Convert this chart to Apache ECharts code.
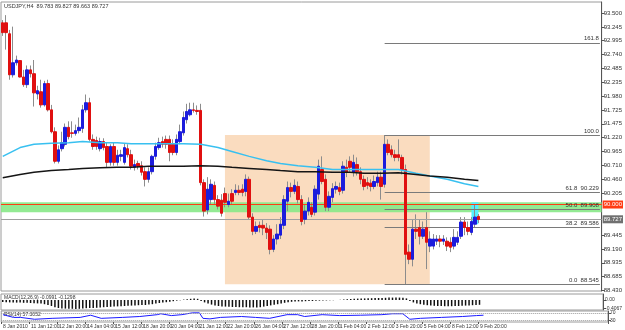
<!DOCTYPE html>
<html>
<head>
<meta charset="utf-8">
<script src="https://cdn.jsdelivr.net/npm/echarts@6.0.0/dist/echarts.min.js"></script>
<style>
  html, body { margin: 0; padding: 0; background: #fff; }
  #chart { width: 625px; height: 330px; }
</style>
</head>
<body>
<div id="chart"></div>
<script>
// USDJPY H4, 8 Jan 2010 04:00 .. 10 Feb 2010 00:00
const opens = [
  93.32, 93.32, 93.12, 92.37, 92.59, 92.63, 92.33, 92.19, 92.46, 92.39,
  92.02, 92.06, 91.82, 92.21, 91.73, 91.33, 90.79, 91.02, 91.10, 91.41,
  91.31, 91.30, 91.35, 91.39, 91.73, 91.86, 91.19, 91.17, 91.02, 91.15,
  91.06, 90.77, 91.06, 90.77, 90.88, 90.77, 91.02, 90.91, 90.68, 90.75,
  90.71, 90.60, 90.46, 90.60, 90.88, 91.04, 91.15, 91.19, 91.19, 91.10,
  90.95, 91.15, 91.31, 91.55, 91.64, 91.73, 91.72, 91.72, 90.40, 89.90,
  90.09, 90.35, 90.09, 90.08, 90.20, 90.00, 90.20, 90.22, 90.26, 90.28,
  90.24, 90.46, 89.77, 89.51, 89.62, 89.62, 89.57, 89.55, 89.18, 89.37,
  89.44, 89.62, 90.06, 90.31, 90.24, 90.33, 90.09, 89.73, 89.88, 89.95,
  89.86, 90.19, 90.64, 90.46, 89.95, 90.13, 90.28, 90.31, 90.26, 90.68,
  90.79, 90.59, 90.73, 90.60, 90.46, 90.40, 90.39, 90.33, 90.40, 90.50,
  90.37, 91.10, 91.00, 90.91, 90.91, 90.86, 90.64, 89.13, 89.00, 89.55,
  89.58, 89.42, 89.58, 89.24, 89.24, 89.33, 89.37, 89.33, 89.33, 89.31,
  89.24, 89.31, 89.42, 89.68, 89.58, 89.49, 89.64, 89.783
];
const closes = [
  93.14, 93.14, 92.37, 92.59, 92.64, 92.33, 92.19, 92.46, 92.39, 92.04,
  92.08, 91.82, 92.21, 91.73, 91.33, 90.79, 91.00, 91.13, 91.41, 91.24,
  91.30, 91.35, 91.41, 91.73, 91.86, 91.19, 91.06, 91.06, 91.15, 91.04,
  90.77, 91.06, 90.77, 90.90, 90.91, 91.04, 90.91, 90.70, 90.73, 90.70,
  90.59, 90.46, 90.60, 90.88, 91.06, 91.13, 91.10, 91.10, 90.95, 90.95,
  91.19, 91.33, 91.59, 91.70, 91.73, 91.72, 91.70, 90.40, 89.88, 90.28,
  90.37, 90.09, 89.97, 89.84, 90.04, 90.06, 90.06, 90.26, 90.22, 90.22,
  90.46, 89.77, 89.51, 89.60, 89.58, 89.57, 89.49, 89.18, 89.37, 89.46,
  89.64, 90.09, 90.31, 90.24, 90.35, 90.09, 89.69, 89.88, 90.04, 89.82,
  90.28, 90.70, 90.42, 89.95, 90.15, 90.29, 90.33, 90.24, 90.70, 90.59,
  90.68, 90.77, 90.60, 90.46, 90.33, 90.35, 90.33, 90.42, 90.50, 90.33,
  91.10, 90.95, 90.91, 90.86, 90.86, 90.64, 89.09, 89.00, 89.55, 89.51,
  89.42, 89.55, 89.31, 89.37, 89.37, 89.37, 89.33, 89.37, 89.24, 89.22,
  89.40, 89.40, 89.68, 89.58, 89.51, 89.69, 89.77, 89.727
];
const lows = [
  93.08, 92.83, 92.28, 92.32, 92.54, 92.32, 92.15, 92.13, 92.32, 91.79,
  91.92, 91.77, 91.79, 91.70, 91.30, 90.75, 90.75, 90.97, 91.06, 91.19,
  91.22, 91.26, 91.30, 91.31, 91.68, 91.15, 91.00, 91.00, 90.97, 90.99,
  90.68, 90.71, 90.71, 90.71, 90.79, 90.73, 90.86, 90.64, 90.62, 90.64,
  90.53, 90.33, 90.40, 90.55, 90.82, 91.00, 91.04, 91.02, 90.79, 90.90,
  90.90, 91.10, 91.26, 91.48, 91.61, 91.68, 91.64, 90.35, 89.78, 89.82,
  90.00, 89.99, 89.91, 89.78, 89.95, 89.95, 90.00, 90.17, 90.17, 90.15,
  90.15, 89.73, 89.44, 89.46, 89.49, 89.44, 89.37, 89.09, 89.13, 89.27,
  89.37, 89.55, 89.88, 90.13, 90.19, 90.02, 89.62, 89.64, 89.80, 89.77,
  89.80, 90.09, 90.37, 89.88, 89.88, 90.04, 90.20, 90.17, 90.20, 90.50,
  90.60, 90.51, 90.53, 90.37, 90.26, 90.28, 90.24, 90.28, 90.33, 90.09,
  90.31, 90.90, 90.86, 90.79, 90.79, 90.55, 88.545, 88.91, 88.87, 89.37,
  89.27, 89.37, 88.82, 89.13, 89.18, 89.26, 89.22, 89.26, 89.15, 89.13,
  89.18, 89.26, 89.37, 89.44, 89.44, 89.44, 89.58, 89.663
];
const highs = [
  93.37, 93.46, 93.19, 93.25, 92.72, 92.64, 92.46, 92.54, 92.54, 92.64,
  92.17, 92.28, 92.26, 92.28, 91.82, 91.41, 91.08, 91.33, 91.48, 91.52,
  91.52, 91.46, 91.59, 91.82, 92.01, 91.95, 91.28, 91.24, 91.22, 91.21,
  91.13, 91.10, 91.13, 91.00, 91.00, 91.11, 91.10, 91.00, 90.82, 90.80,
  90.79, 90.68, 90.68, 90.91, 91.13, 91.22, 91.24, 91.26, 91.26, 91.19,
  91.28, 91.46, 91.70, 91.84, 91.86, 91.86, 91.81, 91.84, 90.46, 90.50,
  90.46, 90.42, 90.17, 90.19, 90.31, 90.20, 90.28, 90.37, 90.35, 90.37,
  90.55, 90.51, 89.84, 89.69, 89.69, 89.73, 89.66, 89.62, 89.44, 89.64,
  89.77, 90.17, 90.42, 90.40, 90.46, 90.42, 90.17, 90.00, 90.13, 90.04,
  90.35, 90.82, 90.88, 90.55, 90.24, 90.39, 90.42, 90.40, 90.79, 90.82,
  90.88, 90.91, 90.86, 90.68, 90.53, 90.50, 90.46, 90.53, 90.60, 90.60,
  91.27, 91.19, 91.08, 91.00, 91.19, 90.91, 90.73, 89.27, 89.73, 89.82,
  89.73, 89.69, 89.86, 89.51, 89.46, 89.44, 89.44, 89.44, 89.40, 89.40,
  89.55, 89.51, 89.77, 89.77, 89.69, 89.77, 90.00, 89.827
];

// moving averages, read at some bars
const maIdx = [0, 5, 9, 14, 19, 23, 28, 33, 37, 42, 47, 52, 57, 62, 66, 71, 76, 80, 85, 90, 95, 100, 104, 109, 114, 119, 123, 128, 133, 137];
const maFast = [90.88, 91.04, 91.10, 91.12, 91.13, 91.15, 91.13, 91.13, 91.11, 91.11, 91.11, 91.11, 91.10, 91.04, 90.97, 90.88, 90.80, 90.75, 90.71, 90.68, 90.64, 90.64, 90.64, 90.64, 90.64, 90.57, 90.52, 90.46, 90.38, 90.33];
const maSlow = [90.49, 90.55, 90.59, 90.62, 90.64, 90.66, 90.67, 90.68, 90.68, 90.70, 90.70, 90.70, 90.71, 90.70, 90.68, 90.66, 90.64, 90.62, 90.60, 90.60, 90.59, 90.59, 90.57, 90.57, 90.58, 90.55, 90.52, 90.50, 90.46, 90.44];

const macd = [
  -0.10, -0.11, -0.12, -0.12, -0.13, -0.13, -0.14, -0.14, -0.15, -0.16, -0.17, -0.18,
  -0.21, -0.25, -0.30, -0.36,
  -0.40, -0.42, -0.43, -0.44, -0.44, -0.45, -0.44, -0.43, -0.41, -0.40, -0.40, -0.39,
  -0.37, -0.36, -0.35, -0.34, -0.33, -0.32, -0.31, -0.30, -0.29, -0.28, -0.27, -0.26, -0.25, -0.25,
  -0.23, -0.21, -0.18, -0.15, -0.13, -0.11, -0.09,
  -0.06, -0.03, -0.01, 0.02, 0.04, 0.06, 0.07, 0.06,
  -0.05, -0.12, -0.18, -0.23, -0.27,
  -0.30, -0.32, -0.33, -0.34, -0.35, -0.35, -0.36, -0.36, -0.36, -0.37, -0.37, -0.37, -0.36,
  -0.33, -0.30, -0.27, -0.24, -0.21, -0.18, -0.14, -0.11,
  -0.09, -0.08, -0.07, -0.07, -0.06, -0.05, -0.05, -0.04, -0.03, -0.02, -0.02, -0.01, -0.01, 0.00, 0.01, 0.02,
  0.04, 0.05, 0.06, 0.07, 0.08, 0.08, 0.09, 0.09, 0.10, 0.10, 0.10, 0.11, 0.12, 0.12, 0.12, 0.12, 0.11, 0.08,
  -0.05, -0.12, -0.17, -0.21, -0.24, -0.26, -0.28, -0.29, -0.30, -0.30, -0.31, -0.31, -0.31, -0.30, -0.30, -0.29, -0.28, -0.27, -0.26, -0.25, -0.24
];

const rsiIdx = [0, 3, 5, 9, 14, 22, 25, 28, 34, 39, 44, 45, 48, 51, 54, 56, 57, 59, 62, 68, 72, 76, 81, 84, 86, 91, 96, 102, 108, 111, 114, 116, 119, 125, 131, 135, 137];
const rsiVal = [60, 45, 45, 35, 40, 45, 57, 40, 45, 50, 60, 65, 55, 60, 70, 70, 40, 37, 45, 50, 45, 40, 60, 60, 50, 60, 55, 57, 60, 65, 65, 35, 40, 45, 50, 55, 57];

const xLabels = ["8 Jan 2010", "11 Jan 12:00", "12 Jan 20:00", "14 Jan 04:00", "15 Jan 12:00", "18 Jan 20:00",
  "20 Jan 04:00", "21 Jan 12:00", "22 Jan 20:00", "26 Jan 04:00", "27 Jan 12:00", "28 Jan 20:00",
  "1 Feb 04:00", "2 Feb 12:00", "3 Feb 20:00", "5 Feb 04:00", "8 Feb 12:00", "9 Feb 20:00"];
const priceTicks = [88.430, 88.685, 88.935, 89.190, 89.445, 90.205, 90.460, 90.710, 90.965, 91.220,
  91.475, 91.725, 91.980, 92.235, 92.485, 92.740, 92.995, 93.245, 93.500];
const macdTicks = [0.2231, 0, -0.4067];
const rsiTicks = [70, 30];

const fibHigh = 91.27, fibLow = 88.545, fibStart = 110;
const fibLevels = [0, 38.2, 50, 61.8, 100, 161.8];
const fibLabels = ["0.0  88.545", "38.2  89.586", "50.0  89.908", "61.8  90.229", "100.0", "161.8"];
const boxStart = 64, boxEnd = 123;
const zoneTop = 90.04, zoneBottom = 89.86, levelLine = 90.00, lastPrice = 89.727;

const barCount = 173; // bars plus empty space on the right
const cats = [];
for (let i = 0; i < barCount; i++) cats.push(String(i));

const wicks = opens.map((o, i) => [o, closes[i], lows[i], highs[i]]);
const bodies = opens.map((o, i) => [o, closes[i], Math.min(o, closes[i]), Math.max(o, closes[i])]);
const fibPrice = (lv) => fibLow + (fibHigh - fibLow) * lv / 100;

const font = "Liberation Sans Narrow, Liberation Sans";
const txt = "#333";
const axisCol = "#555";
const labelEvery = (idx) => idx % 8 === 0 && idx / 8 < xLabels.length;

const chart = echarts.init(document.getElementById("chart"));
const grids = [
  { left: 1, right: 17, top: 2, height: 289 },
  { left: 1, right: 17, top: 294, height: 16 },
  { left: 1, right: 17, top: 311, height: 11 },
].map((g) => Object.assign(g, { show: true, borderColor: "#9a9a9a", borderWidth: 1 }));

const xAxes = [0, 1, 2].map((k) => ({
  type: "category",
  gridIndex: k,
  data: cats,
  boundaryGap: true,
  axisLine: { show: false },
  axisTick: k === 2 ? { show: true, interval: labelEvery, length: 2, lineStyle: { color: axisCol } } : { show: false },
  axisLabel: k === 2 ? {
    show: true, interval: labelEvery, showMinLabel: true, align: "left", margin: 2,
    fontSize: 5, fontFamily: font, color: txt,
    formatter: (v, idx) => xLabels[idx / 8] || "",
  } : { show: false },
  splitLine: { show: false },
}));

const yBase = {
  type: "value", position: "right",
  splitLine: { show: false },
  axisLine: { show: true, lineStyle: { color: axisCol } },
};
const yLabel = { fontSize: 6, fontFamily: font, color: txt, margin: 2, hideOverlap: false };
const yAxes = [
  Object.assign({}, yBase, {
    gridIndex: 0, min: 88.42, max: 93.70,
    axisTick: { show: true, length: 3, customValues: priceTicks, lineStyle: { color: axisCol } },
    axisLabel: Object.assign({ customValues: priceTicks, formatter: (v) => v.toFixed(3) }, yLabel),
  }),
  Object.assign({}, yBase, {
    gridIndex: 1, min: -0.5, max: 0.3,
    axisTick: { show: true, length: 3, customValues: macdTicks, lineStyle: { color: axisCol } },
    axisLabel: Object.assign({ customValues: macdTicks, formatter: (v) => (v === 0 ? "0.00" : String(v)) }, yLabel, { fontSize: 5 }),
  }),
  Object.assign({}, yBase, {
    gridIndex: 2, min: 20, max: 80,
    axisTick: { show: true, length: 3, customValues: rsiTicks, lineStyle: { color: axisCol } },
    axisLabel: Object.assign({ customValues: rsiTicks }, yLabel, { fontSize: 5 }),
  }),
];

const smallLabel = { fontSize: 6, fontFamily: font, color: txt };

const option = {
  animation: false,
  backgroundColor: "#fff",
  grid: grids,
  xAxis: xAxes,
  yAxis: yAxes,
  graphic: [
    { type: "text", left: 4, top: 3, style: { text: "USDJPY,H4  89.783 89.827 89.663 89.727", font: "5.5px " + font, fill: txt } },
    { type: "text", left: 4, top: 295, style: { text: "MACD(12,26,9) -0.0991 -0.1298", font: "5px " + font, fill: txt } },
    { type: "text", left: 4, top: 312, style: { text: "RSI(14) 57.3052", font: "5px " + font, fill: txt } },
  ],
  series: [
    {
      // time box
      type: "line", xAxisIndex: 0, yAxisIndex: 0, data: [], z: 1, silent: true,
      markArea: {
        silent: true,
        itemStyle: { color: "#fadcbf" },
        data: [[{ xAxis: boxStart, yAxis: fibHigh }, { xAxis: boxEnd, yAxis: fibLow }]],
      },
    },
    {
      // support zone, marked bars, price lines
      type: "line", xAxisIndex: 0, yAxisIndex: 0, data: [], z: 2, silent: true,
      markArea: {
        silent: true,
        data: [
          [{ yAxis: zoneTop, itemStyle: { color: "rgba(135,232,135,0.9)" } }, { yAxis: zoneBottom }],
          [{ xAxis: 135, yAxis: 90.04, itemStyle: { color: "#55eeff" } }, { xAxis: 137, yAxis: 89.64 }],
        ],
      },
      markLine: {
        silent: true, symbol: ["none", "none"],
        data: [
          {
            yAxis: levelLine, lineStyle: { color: "#ff3c14", width: 1, type: "solid" },
            label: { position: "end", distance: 1, formatter: "90.000", fontSize: 6, fontFamily: font, color: "#fff", backgroundColor: "#ff3c14", padding: [1, 1] },
          },
          {
            yAxis: lastPrice, lineStyle: { color: "#a0a0a0", width: 1, type: "solid" },
            label: { position: "end", distance: 1, formatter: "89.727", fontSize: 6, fontFamily: font, color: "#fff", backgroundColor: "#707070", padding: [1, 1] },
          },
        ],
      },
    },
    {
      // fibonacci levels
      type: "line", xAxisIndex: 0, yAxisIndex: 0, data: [], z: 3, silent: true,
      markLine: {
        silent: true, symbol: ["none", "none"],
        lineStyle: { color: "#7a7a7a", width: 1, type: "solid" },
        data: fibLevels.map((lv, k) => [
          { coord: [fibStart, fibPrice(lv)], label: Object.assign({ position: "insideEndTop", distance: 1, formatter: fibLabels[k] }, smallLabel) },
          { coord: [barCount - 1, fibPrice(lv)] },
        ]),
      },
    },
    {
      type: "candlestick", name: "wick", xAxisIndex: 0, yAxisIndex: 0, z: 4,
      data: wicks, barWidth: 1,
      itemStyle: { color: "#8c8c8c", color0: "#8c8c8c", borderColor: "#8c8c8c", borderColor0: "#8c8c8c", borderColorDoji: "#8c8c8c", borderWidth: 1 },
    },
    {
      type: "candlestick", name: "body", xAxisIndex: 0, yAxisIndex: 0, z: 5,
      data: bodies, barWidth: 3,
      itemStyle: { color: "#1c1cdc", color0: "#e01010", borderColor: "#1c1cdc", borderColor0: "#e01010", borderColorDoji: "#e01010", borderWidth: 1 },
    },
    {
      type: "line", name: "MA fast", xAxisIndex: 0, yAxisIndex: 0, z: 6, symbol: "none",
      data: maIdx.map((x, k) => [x, maFast[k]]),
      lineStyle: { color: "#38c0f0", width: 1.5 },
    },
    {
      type: "line", name: "MA slow", xAxisIndex: 0, yAxisIndex: 0, z: 6, symbol: "none",
      data: maIdx.map((x, k) => [x, maSlow[k]]),
      lineStyle: { color: "#151515", width: 1.5 },
    },
    {
      type: "bar", name: "MACD", xAxisIndex: 1, yAxisIndex: 1,
      data: macd, barWidth: 1.5,
      itemStyle: { color: "#111" },
    },
    {
      type: "line", name: "RSI", xAxisIndex: 2, yAxisIndex: 2, symbol: "none",
      data: rsiIdx.map((x, k) => [x, rsiVal[k]]),
      lineStyle: { color: "#1a1aff", width: 1 },
      markLine: {
        silent: true, symbol: ["none", "none"], label: { show: false },
        lineStyle: { color: "#9a9a9a", width: 1, type: "dotted" },
        data: [{ yAxis: 70 }, { yAxis: 30 }],
      },
    },
  ],
};
chart.setOption(option);
</script>
</body>
</html>
